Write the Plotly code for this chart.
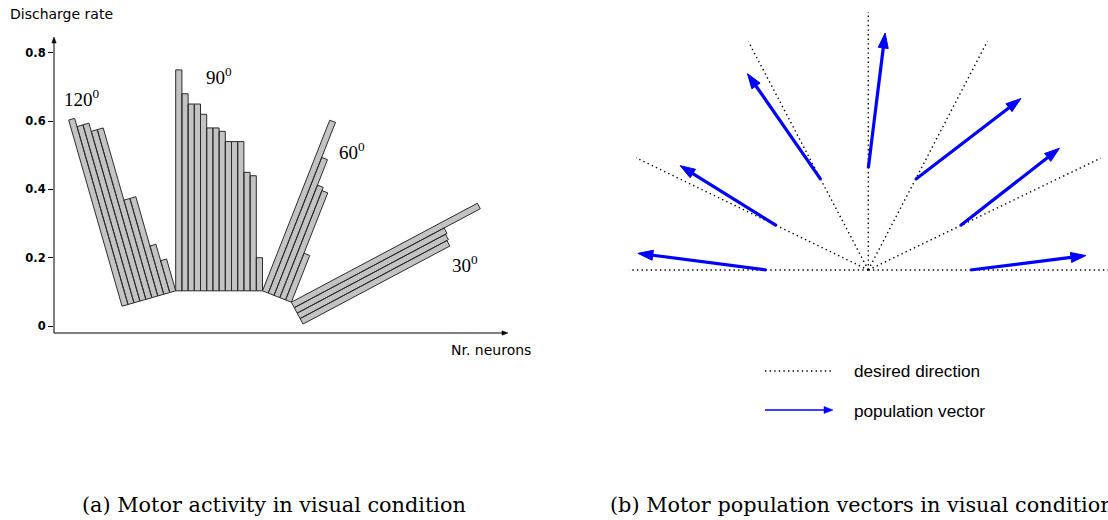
import numpy as np
import plotly.graph_objects as go

W, H = 1108, 520

# ---------------- panel (a): discharge rates per neuron, grouped by movement direction
group_labels = ["120", "90", "60", "30"]
rates_120 = [0.67, 0.645, 0.645, 0.62, 0.62, 0.40, 0.40, 0.25, 0.20]
rates_90 = [0.75, 0.68, 0.65, 0.65, 0.62, 0.58, 0.58, 0.57, 0.54, 0.54, 0.54, 0.45, 0.44, 0.20]
rates_60 = [0.64, 0.53, 0.45, 0.44, 0.25]
rates_30 = [0.72, 0.60, 0.595, 0.59]
rate_ticks = [0, 0.2, 0.4, 0.6, 0.8]
rate_tick_text = ["0", "0.2", "0.4", "0.6", "0.8"]

# ---------------- panel (b): desired directions and population vectors (degrees)
desired_dirs = [0, 25.7, 62.5, 90, 117.7, 154.2, 180]
pop_dirs = [7.1, 38.0, 37.5, 82.9, 124.7, 148.1, 172.6]
pop_lengths = [1.165, 1.26, 1.33, 1.36, 1.29, 1.135, 1.295]


def paper(px, py):
    return px / W, 1 - py / H


# ---- layout of panel (a) in pixels; one rate unit = A_SCALE px on both axes
A_X0, A_X1, A_Y0, A_Y1 = 54, 508, 37, 333
A_SCALE, A_ZERO = 341.5, 326
BAR_W = 6.2 / A_SCALE
BASE_RATE = 0.103                     # pedestal on which every bar stands
FAN_X0 = (175.7 - A_X0) / A_SCALE     # left end of the upright group's base
TILT = {"120": 16.0, "90": 0.0, "60": -21.5, "30": -62.0}


def unit(deg):
    t = np.radians(deg)
    return np.array([np.cos(t), np.sin(t)]), np.array([-np.sin(t), np.cos(t)])


def bar_polys(rates, start, tilt):
    u, v = unit(tilt)
    xs, ys = [], []
    for k, r in enumerate(rates):
        length = r - BASE_RATE
        p0 = start + k * BAR_W * u
        p1 = p0 + BAR_W * u
        p2 = p1 + length * v
        p3 = p0 + length * v
        for p in (p0, p1, p2, p3, p0):
            xs.append(p[0])
            ys.append(p[1])
        xs.append(None)
        ys.append(None)
    return xs, ys, start + len(rates) * BAR_W * u


base90 = np.array([FAN_X0, BASE_RATE])
u120, _ = unit(TILT["120"])
start120 = base90 - len(rates_120) * BAR_W * u120
x120, y120, _ = bar_polys(rates_120, start120, TILT["120"])
x90, y90, end90 = bar_polys(rates_90, base90, TILT["90"])
x60, y60, end60 = bar_polys(rates_60, end90, TILT["60"])
x30, y30, _ = bar_polys(rates_30, end60, TILT["30"])

fig = go.Figure()
for xs, ys in ((x120, y120), (x90, y90), (x60, y60), (x30, y30)):
    fig.add_trace(go.Scatter(
        x=xs, y=ys, mode="lines", fill="toself", fillcolor="#c3c3c3",
        line=dict(color="#2b2b2b", width=1), hoverinfo="skip",
        xaxis="x", yaxis="y"))

# ---- panel (b): one unit = 100 px, origin of the fan at (868.3, 270) px
B_CX, B_CY, B_SCALE = 868.3, 270, 100
B_X0, B_X1, B_Y0, B_Y1 = 629, 1108, 0, 300
RAY_R = 2.58
START_R = 1.02
HEAD_L, HEAD_HW = 0.15, 0.05

rx, ry = [], []
for a in desired_dirs:
    t = np.radians(a)
    rx += [0, RAY_R * np.cos(t), None]
    ry += [0, RAY_R * np.sin(t), None]
fig.add_trace(go.Scatter(
    x=rx, y=ry, mode="lines", line=dict(color="black", width=1.4, dash="1.4px,3.2px"),
    hoverinfo="skip", xaxis="x2", yaxis="y2"))

lx, ly, hx, hy = [], [], [], []
for a, b, m in zip(desired_dirs, pop_dirs, pop_lengths):
    ta, tb = np.radians(a), np.radians(b)
    tail = START_R * np.array([np.cos(ta), np.sin(ta)])
    d = np.array([np.cos(tb), np.sin(tb)])
    n = np.array([-d[1], d[0]])
    tip = tail + m * d
    neck = tip - HEAD_L * d
    lx += [tail[0], neck[0], None]
    ly += [tail[1], neck[1], None]
    for p in (tip, neck + HEAD_HW * n, neck - HEAD_HW * n, tip):
        hx.append(p[0])
        hy.append(p[1])
    hx.append(None)
    hy.append(None)
fig.add_trace(go.Scatter(
    x=lx, y=ly, mode="lines", line=dict(color="#0000ff", width=3.2),
    hoverinfo="skip", xaxis="x2", yaxis="y2"))
fig.add_trace(go.Scatter(
    x=hx, y=hy, mode="lines", fill="toself", fillcolor="#0000ff",
    line=dict(color="#0000ff", width=1), hoverinfo="skip", xaxis="x2", yaxis="y2"))

ann = []
shapes = []


def px_line(x0p, y0p, x1p, y1p, color, width, dash="solid"):
    x0, y0 = paper(x0p, y0p)
    x1, y1 = paper(x1p, y1p)
    shapes.append(dict(type="line", xref="paper", yref="paper", x0=x0, y0=y0, x1=x1, y1=y1,
                       line=dict(color=color, width=width, dash=dash)))


def px_head(tip, direction, length, half, color):
    """Filled triangular arrowhead, given in pixel coordinates."""
    t = np.array(tip, dtype=float)
    d = np.array(direction, dtype=float)
    d /= np.linalg.norm(d)
    n = np.array([-d[1], d[0]])
    pts = [t, t - length * d + half * n, t - length * d - half * n]
    pp = [paper(*p) for p in pts]
    path = "M {} {} L {} {} L {} {} Z".format(*[c for p in pp for c in p])
    shapes.append(dict(type="path", xref="paper", yref="paper", path=path,
                       fillcolor=color, line=dict(color=color, width=0.5)))


# axis arrows of panel (a)
ya_lo = (A_ZERO - A_Y1) / A_SCALE
ya_hi = (A_ZERO - A_Y0) / A_SCALE
xa_hi = (A_X1 - A_X0) / A_SCALE
px_line(A_X0, A_Y1, A_X0, A_Y0 + 4, "black", 1)
px_head((A_X0, A_Y0), (0, -1), 6, 2.2, "black")
px_line(A_X0, A_Y1, A_X1 - 4, A_Y1, "black", 1)
px_head((A_X1, A_Y1), (1, 0), 6, 2.2, "black")

sans = "DejaVu Sans"
serif = "Liberation Serif"


def label(text, px, py, size, family, anchor="center", color="black"):
    x, y = paper(px, py)
    ann.append(dict(x=x, y=y, xref="paper", yref="paper", text=text, showarrow=False,
                    xanchor=anchor, yanchor="middle",
                    font=dict(size=size, family=family, color=color)))


label("Discharge rate", 8, 14, 14, sans, anchor="left")
label("Nr. neurons", 449, 350, 14, sans, anchor="left")

for txt, (px, py) in zip(group_labels, [(82, 98), (219, 76), (352, 151), (465, 264)]):
    label(f"{txt}<sup>0</sup>", px, py, 19, serif)

# legend of panel (b)
label("desired direction", 852, 371, 17.2, "Liberation Sans", anchor="left")
label("population vector", 852, 411, 17.2, "Liberation Sans", anchor="left")
px_line(765, 371, 832, 371, "black", 1.3, dash="1.4px,3.2px")
px_line(765, 410, 825, 410, "#0000ff", 1.5)
px_head((833, 410), (1, 0), 9, 3.5, "#0000ff")

# captions
cap_font = "DejaVu Serif"
label("(a) Motor activity in visual condition", 274, 505, 20.8, cap_font)
label("(b) Motor population vectors in visual condition", 608, 505, 20.8, cap_font,
      anchor="left")

fig.update_layout(
    width=W, height=H, margin=dict(l=0, r=0, t=0, b=0),
    paper_bgcolor="white", plot_bgcolor="white", showlegend=False,
    annotations=ann, shapes=shapes,
    xaxis=dict(domain=[A_X0 / W, A_X1 / W], range=[0, xa_hi], visible=False,
               fixedrange=True),
    yaxis=dict(domain=[1 - A_Y1 / H, 1 - A_Y0 / H], range=[ya_lo, ya_hi],
               tickvals=rate_ticks, ticktext=rate_tick_text, ticks="outside", ticklen=5,
               tickwidth=1, tickcolor="black", showgrid=False, zeroline=False,
               showline=False, tickfont=dict(family=sans, size=11.5, color="black",
                                             weight="bold"),
               fixedrange=True),
    xaxis2=dict(domain=[B_X0 / W, B_X1 / W],
                range=[(B_X0 - B_CX) / B_SCALE, (B_X1 - B_CX) / B_SCALE],
                visible=False, anchor="y2"),
    yaxis2=dict(domain=[1 - B_Y1 / H, 1 - B_Y0 / H],
                range=[(B_CY - B_Y1) / B_SCALE, (B_CY - B_Y0) / B_SCALE],
                visible=False, anchor="x2"),
)

fig.write_html("out.html")
